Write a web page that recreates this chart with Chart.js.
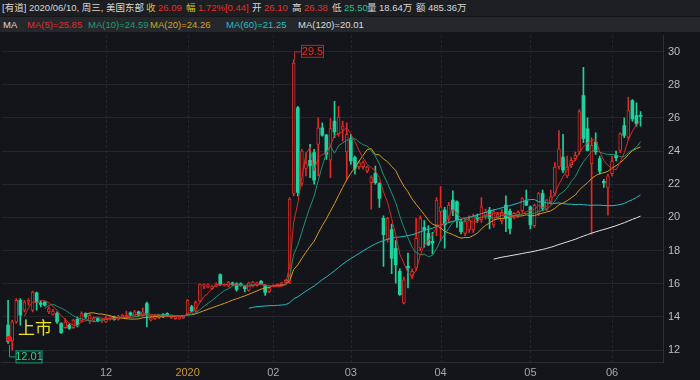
<!DOCTYPE html>
<html><head><meta charset="utf-8">
<script src="https://cdn.jsdelivr.net/npm/chart.js@4"></script>
<style>
html,body{margin:0;padding:0;background:#13151a;width:700px;height:380px;overflow:hidden;font-family:"Liberation Sans","Noto Sans CJK SC",sans-serif;}
.row{position:absolute;left:0;width:700px;z-index:2;}
#r1{top:0;height:16px;background:#1c1e22;}
#r2{top:17px;height:15px;background:#25272b;}
#gap{position:absolute;left:0;top:16px;width:700px;height:1px;background:#15171b;z-index:2;}
.row span{position:absolute;white-space:nowrap;}
#r1 span{top:2px;font-size:9.5px;line-height:12px;color:#d8d8d8;}
#r2 span{top:2px;font-size:9.5px;line-height:12px;}
.up{color:#e0302a!important}.dn{color:#1fc08e!important}.yl{color:#d6c21a!important}
#wrap{position:absolute;left:0;top:24px;width:700px;height:356px;z-index:1;}
</style></head>
<body>
<div class="row" id="r1">
<span style="left:2px">[有道]</span>
<span style="left:29px">2020/06/10, 周三, 美国东部</span>
<span class="yl" style="left:146px">收</span><span class="up" style="left:158px">26.09</span>
<span class="yl" style="left:186px">幅</span><span class="up" style="left:198px">1.72%[0.44]</span>
<span style="left:252px">开</span><span class="up" style="left:264px">26.10</span>
<span style="left:292px">高</span><span class="up" style="left:304px">26.38</span>
<span style="left:332px">低</span><span class="dn" style="left:344px">25.50</span>
<span style="left:367px">量</span><span style="left:379px">18.64万</span>
<span style="left:416px">额</span><span style="left:428px">485.36万</span>
</div>
<div id="gap"></div>
<div class="row" id="r2">
<span style="left:3px;color:#dcdcdc">MA</span>
<span style="left:27px;color:#d9302c">MA(5)=25.85</span>
<span style="left:88px;color:#1e9e74">MA(10)=24.59</span>
<span style="left:150px;color:#d5a21e">MA(20)=24.26</span>
<span style="left:226px;color:#23bfc6">MA(60)=21.25</span>
<span style="left:298px;color:#dcdcdc">MA(120)=20.01</span>
</div>
<div id="wrap"><canvas id="c" width="700" height="356"></canvas></div>
<script>
const opens = [13.5,12.55,13.7,15.0,14.4,14.9,14.4,15.45,14.85,14.9,
14.3,14.15,14.2,13.6,13.35,13.5,13.35,13.85,13.75,14.2,
13.75,13.8,13.9,13.75,13.7,13.85,14.0,13.85,14.0,13.95,
14.25,14.05,14.3,14.1,14.8,13.8,13.9,13.95,14.15,14.2,
13.95,13.9,13.9,13.95,14.2,14.6,14.35,14.95,15.85,15.8,
15.7,15.85,16.55,15.9,15.85,16.05,16.0,16.0,15.85,15.6,
15.85,15.9,16.15,15.88,15.5,15.85,15.9,15.95,16.05,16.05,
21.45,26.6,22.05,22.95,23.44,23.9,24.4,25.4,24.96,23.45,
25.8,25.05,25.3,23.95,24.75,23.6,23.05,23.05,22.8,22.1,
22.64,22.04,19.94,18.66,19.26,18.14,16.74,14.84,17.05,16.44,
16.94,18.14,19.4,19.04,18.55,19.54,20.35,20.44,19.94,21.04,
20.94,19.74,19.04,19.24,19.24,20.0,19.84,20.1,20.44,19.54,
20.0,19.8,20.74,20.38,20.1,20.15,20.4,20.98,20.64,19.5,
20.24,21.44,20.5,20.94,21.44,23.04,23.64,22.5,23.18,23.54,
23.94,27.34,25.34,23.24,24.54,23.54,22.18,21.78,22.64,23.74,
24.04,25.54,24.84,27.04,26.14,26.10];
const highs = [15.0,13.8,15.1,15.1,15.0,15.1,15.55,15.5,14.95,14.95,
14.6,14.45,14.3,13.65,13.9,13.6,13.85,14.0,14.3,14.25,
14.2,14.0,13.95,13.9,14.05,14.05,14.05,14.1,14.15,14.35,
14.3,14.4,14.35,14.55,14.9,14.0,14.1,14.15,14.2,14.25,
14.1,14.05,14.05,14.1,15.05,14.7,14.95,16.0,16.0,16.0,
15.9,16.05,16.6,16.0,16.15,16.1,16.05,16.05,15.9,16.1,
16.15,16.1,16.2,15.95,15.8,15.95,16.0,16.1,16.25,21.2,
29.5,26.7,24.1,23.9,24.4,24.1,26.0,25.7,25.0,25.95,
27.0,26.7,25.8,25.7,25.0,23.7,23.4,23.4,23.1,22.5,
23.1,22.1,20.1,20.0,19.6,18.6,16.9,16.4,17.84,16.9,
19.94,20.1,19.8,19.5,19.1,21.2,21.85,20.6,20.9,21.6,
21.0,19.9,19.9,20.1,20.2,20.2,21.2,20.5,20.6,20.5,
20.3,20.5,21.3,20.5,20.3,20.4,21.2,21.64,20.7,20.8,
21.5,21.64,21.1,21.64,23.3,25.24,25.0,23.7,23.6,23.94,
26.5,29.04,26.0,24.8,25.1,23.7,22.3,22.6,23.7,24.0,
25.1,26.0,27.24,27.1,26.9,26.38];
const lows = [12.4,12.01,13.6,13.5,14.3,14.7,14.3,14.4,14.6,14.65,
14.2,14.1,13.6,13.0,13.3,13.25,13.3,13.4,13.7,13.9,
13.6,13.7,13.7,13.65,13.65,13.8,13.8,13.8,13.95,13.9,
14.05,14.0,14.05,14.05,13.4,13.75,13.85,13.9,13.95,14.05,
13.9,13.85,13.85,13.9,14.1,14.3,14.3,14.9,15.7,15.75,
15.65,15.8,15.9,15.85,15.8,15.9,15.55,15.85,15.5,15.55,
15.8,15.85,15.95,15.3,15.45,15.8,15.85,15.9,16.0,16.0,
21.3,21.3,21.9,22.5,22.4,22.0,22.5,24.9,23.5,22.4,
24.8,24.9,24.6,22.3,23.2,22.6,22.9,22.9,22.7,20.5,
22.0,20.6,17.04,18.5,16.6,16.04,15.3,14.78,15.74,16.3,
16.8,18.0,18.2,18.3,17.8,18.9,18.6,18.14,19.7,20.1,
19.4,19.0,18.9,19.1,19.1,19.7,19.7,19.9,19.3,19.4,
19.9,19.6,19.14,19.0,19.9,20.0,20.3,20.7,19.3,19.4,
20.1,20.4,20.4,20.8,21.3,22.9,22.7,22.4,23.0,23.4,
23.8,24.5,24.0,18.98,23.8,22.6,21.8,20.14,22.5,23.4,
23.9,24.8,24.7,25.8,25.5,25.50];
const closes = [12.5,13.7,15.0,14.1,14.9,15.0,15.5,14.85,14.75,14.7,
14.5,14.35,13.7,13.05,13.7,13.3,13.8,13.5,14.2,14.0,
14.1,13.9,13.75,13.85,13.95,14.0,13.85,14.05,14.1,14.1,
14.1,14.3,14.1,14.3,14.15,13.95,14.05,14.1,14.0,14.1,
14.05,14.0,13.95,14.05,15.0,14.35,14.9,15.95,15.95,15.95,
15.85,16.0,15.95,15.95,16.1,15.95,15.65,15.9,15.7,16.05,
16.1,16.05,16.0,15.48,15.75,15.9,15.95,16.05,16.2,21.1,
29.3,21.5,24.0,23.24,23.1,22.25,25.4,24.95,23.8,25.35,
25.15,26.05,25.5,25.0,23.4,22.95,23.3,23.3,23.04,22.4,
22.1,21.14,18.96,19.94,17.54,17.14,15.34,16.24,16.95,16.74,
18.74,19.94,19.25,18.34,18.45,21.04,20.64,19.54,20.74,20.44,
19.84,19.14,19.74,19.84,20.04,19.9,20.64,20.3,19.94,20.34,
20.2,20.3,19.94,19.34,20.25,20.3,21.14,20.74,19.54,20.74,
21.44,20.54,21.04,21.24,23.04,24.14,22.84,23.04,23.44,23.74,
26.38,24.74,24.04,24.34,23.94,22.78,22.08,22.5,23.38,23.6,
25.04,24.94,26.44,25.94,25.64,26.09];

// month tick labels and the candle index where each month begins
const monthLabels = ['12','2020','02','03','04','05','06'];
const monthIndex  = [24, 44, 65, 84, 106, 128, 148];
const maPeriods = [5, 10, 20, 60, 120];
const maColors  = ['#d42c28', '#1a9470', '#d39e1c', '#22bcc4', '#e2e2e2'];
const yTicks = [12,14,16,18,20,22,24,26,28,30];

const UP = '#e02a24', DN = '#1ed2a0', BG = '#13151a';
const LEAD = 1, TRAIL = 5;
const N = closes.length;
const slot = i => i + LEAD;
const labels = new Array(N + LEAD + TRAIL).fill('');
monthIndex.forEach((ix, k) => { labels[slot(ix)] = monthLabels[k]; });
const pad = arr => [...new Array(LEAD).fill(null), ...arr, ...new Array(TRAIL).fill(null)];

const isUp = closes.map((c, i) => c >= opens[i]);
const wickData = pad(lows.map((l, i) => [l, highs[i]]));
const bodyData = pad(opens.map((o, i) => [o, closes[i]]));
const colorOf = i => { const k = i - LEAD; if (k < 0 || k >= N) return 'transparent'; return isUp[k] ? UP : DN; };

function movingAverage(n) {
  return closes.map((_, i) => {
    if (i < n - 1) return null;
    let s = 0; for (let j = i - n + 1; j <= i; j++) s += closes[j];
    return s / n;
  });
}
const maSets = maPeriods.map((p, k) => ({
  type: 'line', label: 'MA(' + p + ')', data: pad(movingAverage(p)),
  borderColor: maColors[k], borderWidth: 1, pointRadius: 0, tension: 0,
  spanGaps: false, order: 1
}));

const annot = {
  id: 'annot',
  beforeDatasetsDraw(chart) {
    const {ctx, chartArea: a, scales: {x}} = chart;
    ctx.save();
    ctx.strokeStyle = '#2a2d33'; ctx.lineWidth = 1; ctx.setLineDash([2, 3]);
    monthIndex.forEach(ix => {
      const px = Math.round(x.getPixelForValue(slot(ix))) + 0.5;
      ctx.beginPath(); ctx.moveTo(px, a.top); ctx.lineTo(px, a.bottom); ctx.stroke();
    });
    ctx.restore();
  },
  afterDatasetsDraw(chart) {
    const {ctx, scales: {x, y}} = chart;
    ctx.save();
    ctx.font = '11px "Liberation Sans", sans-serif';
    ctx.textBaseline = 'middle';
    // max marker
    let iMax = 0; highs.forEach((h, i) => { if (h > highs[iMax]) iMax = i; });
    let px = Math.round(x.getPixelForValue(slot(iMax))) + 0.5, py = y.getPixelForValue(highs[iMax]);
    ctx.strokeStyle = '#c42420'; ctx.lineWidth = 1;
    ctx.beginPath(); ctx.moveTo(px, py); ctx.lineTo(px, py - 8); ctx.lineTo(px + 7, py - 8); ctx.stroke();
    ctx.fillStyle = '#1a1214'; ctx.fillRect(px + 7, py - 14.5, 22, 12);
    ctx.strokeRect(px + 7, py - 14.5, 22, 12);
    ctx.fillStyle = '#e0302a'; ctx.textAlign = 'center';
    ctx.fillText(highs[iMax].toFixed(1), px + 18, py - 8);
    // min marker
    let iMin = 0; lows.forEach((l, i) => { if (l < lows[iMin]) iMin = i; });
    px = Math.round(x.getPixelForValue(slot(iMin))) - 2.5; py = y.getPixelForValue(lows[iMin]);
    ctx.strokeStyle = '#1c9c78';
    ctx.beginPath(); ctx.moveTo(px, py - 5); ctx.lineTo(px, py + 7); ctx.lineTo(px + 6, py + 7); ctx.stroke();
    ctx.fillStyle = '#121a18'; ctx.fillRect(px + 6.5, py + 1, 26, 12);
    ctx.strokeRect(px + 6.5, py + 1, 26, 12);
    ctx.fillStyle = '#2ccf9c';
    ctx.fillText(lows[iMin].toFixed(2), px + 19.5, py + 7.5);
    // listing marker
    const lx = x.getPixelForValue(slot(0)), ly = y.getPixelForValue(closes[0]) - 3;
    ctx.fillStyle = '#f01818';
    ctx.beginPath(); ctx.arc(lx + 1, ly, 3, 0, Math.PI * 2); ctx.fill();
    ctx.fillStyle = '#ece21a'; ctx.textAlign = 'left';
    ctx.font = '17px "Noto Sans CJK SC", sans-serif';
    ctx.fillText('上市', lx + 10, ly - 11);
    ctx.restore();
  }
};

new Chart(document.getElementById('c'), {
  type: 'bar',
  data: {
    labels,
    datasets: [
      ...maSets,
      { label: 'body', data: bodyData, grouped: false, order: 2, barThickness: 3, minBarLength: 1,
        backgroundColor: c => { const k = c.dataIndex - LEAD; return (k >= 0 && k < N && isUp[k]) ? BG : colorOf(c.dataIndex); },
        borderColor: c => colorOf(c.dataIndex),
        borderWidth: c => { const k = c.dataIndex - LEAD; return (k >= 0 && k < N && isUp[k]) ? 1 : 0; },
        borderSkipped: false },
      { label: 'wick', data: wickData, grouped: false, order: 3, barThickness: 1,
        backgroundColor: c => colorOf(c.dataIndex), borderWidth: 0 }
    ]
  },
  options: {
    responsive: false, animation: false,
    layout: { padding: { top: 0, left: 0, right: 0, bottom: 0 } },
    plugins: { legend: { display: false }, tooltip: { enabled: false } },
    scales: {
      x: {
        offset: true,
        grid: { display: false, drawTicks: false },
        border: { display: true, color: '#2a2d32' },
        ticks: {
          autoSkip: false, maxRotation: 0, minRotation: 0, padding: 4,
          font: { size: 11, family: '"Liberation Sans", sans-serif' },
          color: c => c.tick && c.tick.label === '2020' ? '#d09a28' : '#a8a8a8',
          callback: function (v) { return this.getLabelForValue(v); }
        },
        afterFit: s => { s.height = 18; }
      },
      y: {
        position: 'right', min: 11.28, max: 30.96,
        afterBuildTicks: s => { s.ticks = yTicks.map(v => ({ value: v })); },
        grid: { color: '#22252a', drawTicks: false },
        border: { display: true, color: '#2c2f34' },
        ticks: { padding: 5, color: '#bdbdbd', font: { size: 11, family: '"Liberation Sans", sans-serif' } },
        afterFit: s => { s.width = 37; }
      }
    }
  },
  plugins: [annot]
});
</script>
</body></html>
